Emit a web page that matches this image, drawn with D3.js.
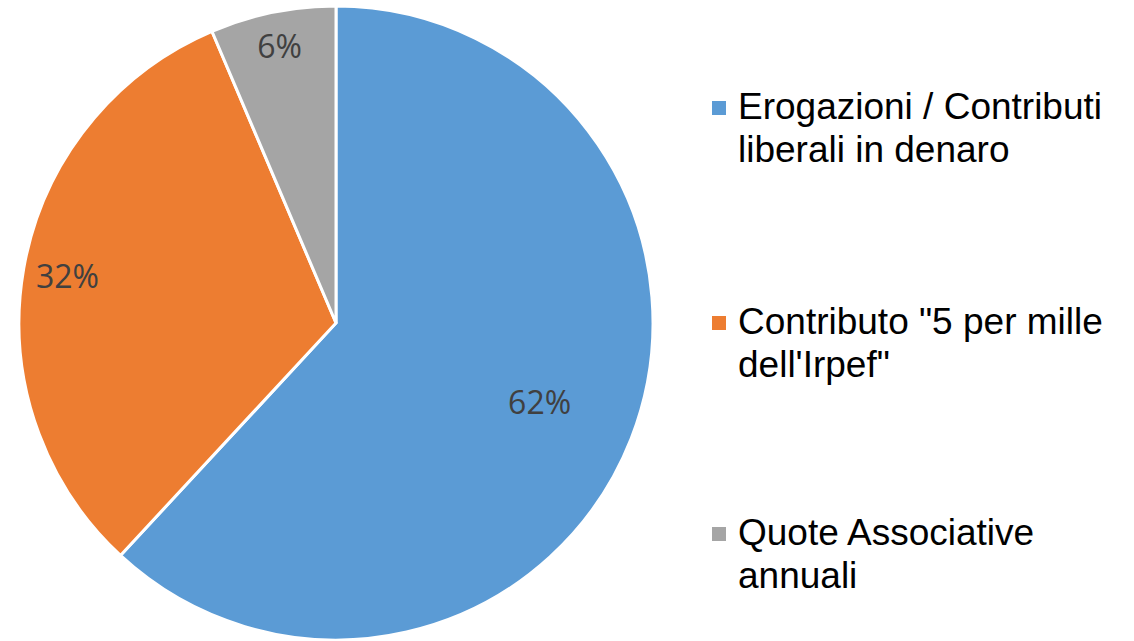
<!DOCTYPE html>
<html>
<head>
<meta charset="utf-8">
<script src="https://cdn.jsdelivr.net/npm/d3@7"></script>
<style>
  html, body { margin: 0; padding: 0; background: #fff; }
</style>
</head>
<body>
<svg></svg>
<script>
// chart data
const categories = ["Erogazioni / Contributi liberali in denaro", "Contributo \"5 per mille dell'Irpef\"", "Quote Associative annuali"]
const legendLines = [["Erogazioni / Contributi", "liberali in denaro"], ["Contributo \"5 per mille", "dell'Irpef\""], ["Quote Associative", "annuali"]]
const values = [61.9, 31.7, 6.4]
const colors = ["#5B9BD5", "#ED7D31", "#A5A5A5"]

const width = 1134, height = 641
const svg = d3.select("svg").attr("width", width).attr("height", height)

const cx = 336, cy = 323, radius = 317
// where each label sits, as a fraction of the radius
const labelPos = [0.69, 0.86, 0.89]

const total = d3.sum(values)
const pie = d3.pie().sort(null).value(d => d)
const arcs = pie(values)

const arc = d3.arc().innerRadius(0).outerRadius(radius)

const g = svg.append("g").attr("transform", `translate(${cx},${cy})`)

g.selectAll("path")
  .data(arcs)
  .enter().append("path")
  .attr("d", arc)
  .attr("fill", (d, i) => colors[i])
  .attr("stroke", "#fff")
  .attr("stroke-width", 3)
  .attr("stroke-linejoin", "miter")

g.selectAll("text.lbl")
  .data(arcs)
  .enter().append("text")
  .attr("class", "lbl")
  .attr("transform", (d, i) => {
    const r = radius * labelPos[i]
    const c = d3.arc().innerRadius(r).outerRadius(r).centroid(d)
    return `translate(${c[0]},${c[1]})`
  })
  .attr("text-anchor", "middle")
  .attr("dy", "0.36em")
  .attr("font-family", "'Open Sans', Lato, sans-serif")
  .attr("font-size", 32)
  .attr("fill", "#404040")
  .text(d => Math.round(d.value / total * 100) + "%")

// legend
const legendY = [119, 334, 545]
const legend = svg.append("g")
const items = legend.selectAll("g")
  .data(categories)
  .enter().append("g")
  .attr("transform", (d, i) => `translate(712,${legendY[i]})`)

items.append("rect")
  .attr("x", 0)
  .attr("y", -18)
  .attr("width", 14)
  .attr("height", 14)
  .attr("fill", (d, i) => colors[i])

items.append("text")
  .attr("font-family", "'Liberation Sans', Arial, sans-serif")
  .attr("font-size", 37)
  .attr("fill", "#000")
  .selectAll("tspan")
  .data((d, i) => legendLines[i])
  .enter().append("tspan")
  .attr("x", 26)
  .attr("y", (d, j) => j * 43)
  .text(d => d)
</script>
</body>
</html>
